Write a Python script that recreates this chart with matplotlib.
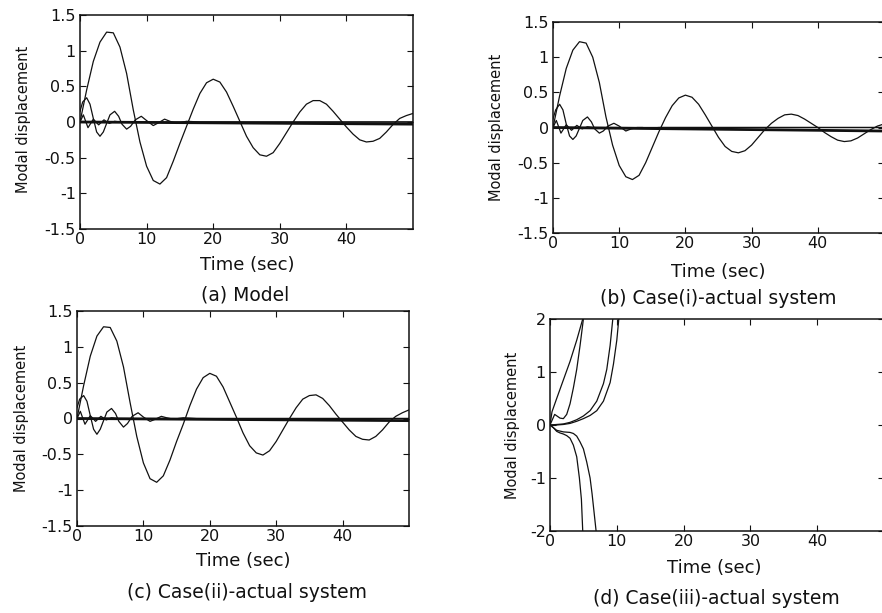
import numpy as np
import matplotlib
matplotlib.use("Agg")
import matplotlib.pyplot as plt

plt.rcParams["font.family"] = ["DejaVu Sans"]

# time axis for the slow mode (one reading per second)
t_main = list(range(0, 51))

# (a) model - slow mode
a_main = [0.0, 0.45, 0.85, 1.12, 1.26, 1.25, 1.05, 0.68, 0.17, -0.28,
          -0.62, -0.82, -0.87, -0.78, -0.55, -0.30, -0.06, 0.18, 0.40, 0.55,
          0.60, 0.56, 0.42, 0.22, 0.01, -0.20, -0.36, -0.46, -0.48, -0.43,
          -0.30, -0.15, 0.00, 0.14, 0.25, 0.30, 0.30, 0.25, 0.15, 0.04,
          -0.07, -0.17, -0.25, -0.28, -0.27, -0.23, -0.14, -0.035, 0.05, 0.09,
          0.12]
# (b) case(i) - slow mode
b_main = [0.0, 0.45, 0.84, 1.10, 1.22, 1.20, 1.00, 0.64, 0.15, -0.25,
          -0.54, -0.70, -0.74, -0.68, -0.50, -0.28, -0.06, 0.14, 0.31, 0.42,
          0.46, 0.43, 0.33, 0.18, 0.02, -0.14, -0.27, -0.34, -0.36, -0.33,
          -0.25, -0.14, -0.03, 0.06, 0.13, 0.18, 0.19, 0.17, 0.12, 0.06,
          0.0, -0.07, -0.13, -0.18, -0.20, -0.19, -0.15, -0.09, -0.03, 0.02,
          0.05]
# (c) case(ii) - slow mode
c_main = [0.0, 0.46, 0.87, 1.15, 1.28, 1.27, 1.08, 0.72, 0.22, -0.25,
          -0.62, -0.84, -0.89, -0.80, -0.58, -0.32, -0.08, 0.18, 0.41, 0.57,
          0.63, 0.59, 0.44, 0.23, 0.02, -0.20, -0.38, -0.48, -0.51, -0.45,
          -0.32, -0.16, 0.0, 0.15, 0.27, 0.32, 0.33, 0.28, 0.18, 0.06,
          -0.05, -0.16, -0.25, -0.29, -0.30, -0.25, -0.16, -0.05, 0.03, 0.08,
          0.12]

# faster modes (readings at irregular times)
t_fast = [0, 0.4, 1.0, 1.5, 2.0, 2.5, 3.0, 3.5, 4.0, 4.5, 5.2, 5.8, 6.3, 7.0,
          7.6, 8.3, 9.2, 10.0, 11.0, 11.8, 12.7, 13.5, 14.5, 16, 18, 50]
a_fast = [0.15, 0.28, 0.34, 0.25, 0.05, -0.14, -0.20, -0.14, -0.02, 0.10, 0.15,
          0.08, -0.03, -0.10, -0.06, 0.03, 0.08, 0.02, -0.05, -0.01, 0.04, 0.01,
          -0.02, 0.01, 0.0, 0.0]
b_fast = [0.12, 0.25, 0.33, 0.25, 0.05, -0.12, -0.17, -0.12, -0.01, 0.10, 0.15,
          0.08, -0.02, -0.08, -0.05, 0.02, 0.06, 0.02, -0.05, -0.02, 0.0, 0.0,
          -0.01, 0.0, 0.0, 0.0]
c_fast = [0.15, 0.27, 0.32, 0.24, 0.04, -0.15, -0.22, -0.15, -0.03, 0.09, 0.14,
          0.07, -0.04, -0.12, -0.07, 0.03, 0.08, 0.02, -0.04, -0.01, 0.03, 0.01,
          -0.01, 0.01, 0.0, 0.0]

t_wig = [0, 0.5, 1.2, 2.0, 2.8, 3.6, 4.4, 5.2, 6.0, 50]
wig = [0.0, 0.10, -0.08, 0.04, -0.04, 0.03, -0.02, 0.01, 0.0, 0.0]

# near-zero modes (drawn thick)
t_flat = [0, 50]
a_flat = [0.0, -0.03]
b_flat = [0.0, -0.05]
c_flat = [0.0, -0.03]

# (d) case(iii) - unstable responses
d1_t = [0, 0.3, 1.0, 2.0, 3.0, 4.0, 4.9]
d1_y = [0.0, 0.25, 0.5, 0.85, 1.2, 1.6, 2.0]
d2_t = [0, 0.7, 1.5, 2.0, 2.5, 3.0, 3.5, 4.0, 4.5, 5.0]
d2_y = [0.0, 0.2, 0.13, 0.12, 0.2, 0.4, 0.7, 1.05, 1.5, 2.0]
d3_t = [0, 1, 2, 3, 4, 5, 6, 7, 8, 8.5, 9, 9.4]
d3_y = [0.0, 0.01, 0.02, 0.05, 0.10, 0.17, 0.27, 0.45, 0.78, 1.05, 1.5, 2.0]
d4_t = [0, 1, 2, 3, 4, 5, 6, 7, 8, 9, 9.5, 10, 10.3]
d4_y = [0.0, 0.0, 0.01, 0.03, 0.07, 0.12, 0.18, 0.27, 0.45, 0.8, 1.15, 1.6, 2.0]
d5_t = [0, 0.5, 1.0, 1.5, 2.0, 2.5, 3.0, 3.5, 4.0, 4.4, 4.7, 4.9]
d5_y = [0.0, -0.05, -0.12, -0.15, -0.17, -0.2, -0.25, -0.38, -0.6, -1.0, -1.4, -2.0]
d6_t = [0, 1, 2, 3, 3.5, 4.0, 4.5, 5.0, 5.5, 6.0, 6.3, 6.6, 6.9]
d6_y = [0.0, -0.1, -0.13, -0.14, -0.16, -0.21, -0.32, -0.45, -0.7, -1.0, -1.3, -1.65, -2.0]

W, H = 882, 613
fig = plt.figure(figsize=(8.82, 6.13), dpi=100)
ink = "#111111"


def box(l, r, t, b):
    return [l / W, 1 - b / H, (r - l) / W, (b - t) / H]


def style(ax, ylim, yticks, ylabels):
    ax.set_xlim(0, 50)
    ax.set_ylim(*ylim)
    ax.set_xticks([0, 10, 20, 30, 40])
    ax.set_yticks(yticks)
    ax.set_yticklabels(ylabels)
    ax.tick_params(direction="in", top=True, right=True, length=4, width=0.8,
                   labelsize=11.5, colors=ink)
    ax.tick_params(axis="x", pad=2)
    ax.tick_params(axis="y", pad=3)
    for s in ax.spines.values():
        s.set_linewidth(1.1)
        s.set_color(ink)


ylab15 = ["-1.5", "-1", "-0.5", "0", "0.5", "1", "1.5"]
yt15 = [-1.5, -1, -0.5, 0, 0.5, 1, 1.5]

panels = [
    (box(80, 413, 15, 229), a_main, a_fast, a_flat),
    (box(553, 884, 22, 233), b_main, b_fast, b_flat),
    (box(77, 409, 311, 526), c_main, c_fast, c_flat),
]
for rect, main, fast, flat in panels:
    ax = fig.add_axes(rect)
    ax.plot(t_main, main, color=ink, lw=0.9)
    ax.plot(t_fast, fast, color=ink, lw=0.9)
    ax.plot(t_wig, wig, color=ink, lw=0.9)
    ax.plot(t_flat, flat, color=ink, lw=2.0)
    style(ax, (-1.5, 1.5), yt15, ylab15)

axd = fig.add_axes(box(550, 884, 319, 531))
for tt, yy in [(d1_t, d1_y), (d2_t, d2_y), (d3_t, d3_y), (d4_t, d4_y),
               (d5_t, d5_y), (d6_t, d6_y)]:
    axd.plot(tt, yy, color=ink, lw=0.9)
style(axd, (-2, 2), [-2, -1, 0, 1, 2], ["-2", "-1", "0", "1", "2"])


def px(x, y, s, **kw):
    fig.text(x / W, 1 - y / H, s, ha="center", va="center", color=ink, **kw)


for x, y in [(24, 119), (496, 127), (22, 418), (513, 425)]:
    px(x, y, "Modal displacement", fontsize=10.5, rotation=90)
for x, y in [(247, 265), (718, 272), (243, 561), (714, 568)]:
    px(x, y, "Time (sec)", fontsize=13)
px(245, 295, "(a) Model", fontsize=13.5)
px(718, 298, "(b) Case(i)-actual system", fontsize=13.5)
px(247, 593, "(c) Case(ii)-actual system", fontsize=13.5)
px(716, 599, "(d) Case(iii)-actual system", fontsize=13.5)

fig.savefig("out.png", dpi=100, facecolor="white")
